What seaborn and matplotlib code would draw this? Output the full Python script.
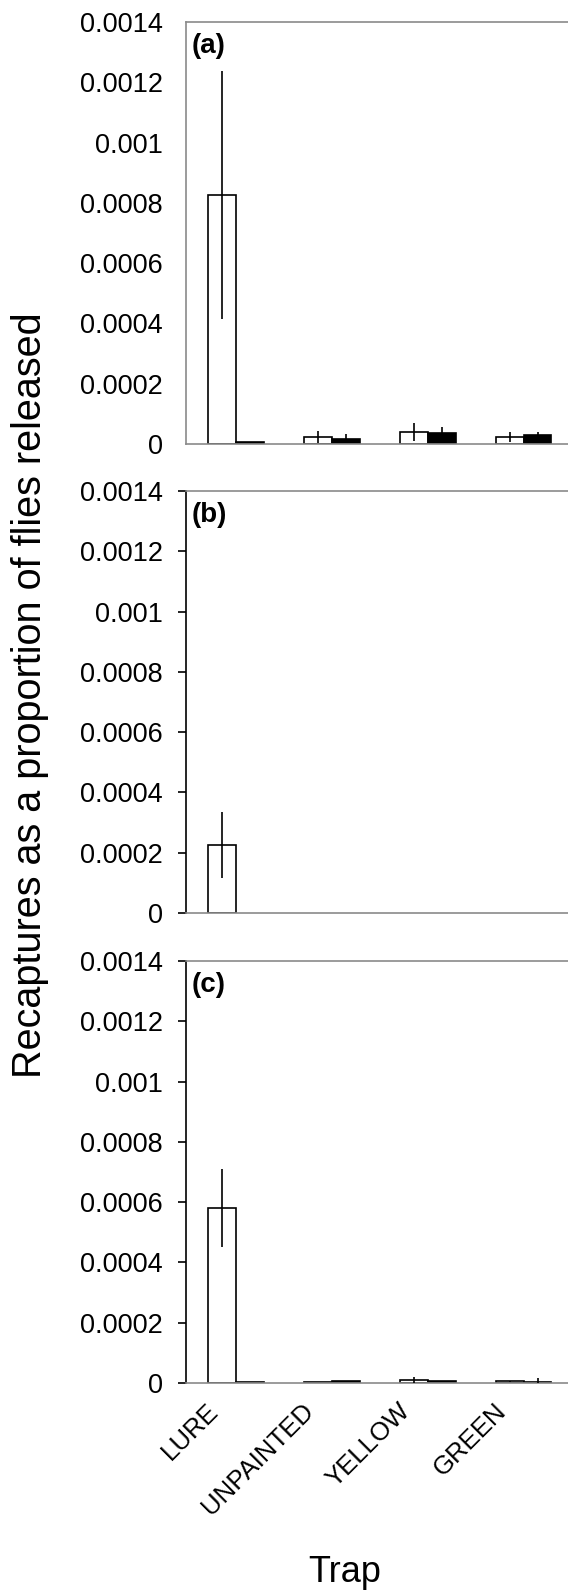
import numpy as np
import pandas as pd
import matplotlib
matplotlib.use('Agg')
import matplotlib.pyplot as plt
import matplotlib.transforms as mtransforms
import seaborn as sns

# categories and series
traps = ['LURE', 'UNPAINTED', 'YELLOW', 'GREEN']
groups = ['Open', 'Filled']
yticks = [0, 0.0002, 0.0004, 0.0006, 0.0008, 0.001, 0.0012, 0.0014]
ytick_labels = ['0', '0.0002', '0.0004', '0.0006', '0.0008', '0.001', '0.0012', '0.0014']

# panel (a)
a_open = [0.000826, 0.000024, 0.000040, 0.000022]
a_open_se = [0.00041, 0.00002, 0.00003, 0.000017]
a_filled = [0.000006, 0.000018, 0.000035, 0.000029]
a_filled_se = [0.0, 0.000015, 0.00002, 0.00001]

# panel (b)
b_open = [0.000225, np.nan, np.nan, np.nan]
b_open_se = [0.00011, 0.0, 0.0, 0.0]
b_filled = [np.nan, np.nan, np.nan, np.nan]
b_filled_se = [0.0, 0.0, 0.0, 0.0]

# panel (c)
c_open = [0.00058, 0.000002, 0.00001, 0.000005]
c_open_se = [0.00013, 0.0, 0.00001, 0.000003]
c_filled = [0.000002, 0.000006, 0.000005, 0.000004]
c_filled_se = [0.0, 0.0, 0.0, 0.000012]

sns.set_style('ticks')
plt.rcParams['font.family'] = ['Liberation Sans', 'DejaVu Sans']
plt.rcParams['text.color'] = 'black'
plt.rcParams['xtick.color'] = 'black'
plt.rcParams['ytick.color'] = 'black'
plt.rcParams['xtick.labelcolor'] = 'black'
plt.rcParams['ytick.labelcolor'] = 'black'

palette = {'Open': 'white', 'Filled': 'black'}
frame_grey = '#8a8a8a'


def draw_panel(ax, open_vals, open_se, filled_vals, filled_se, tag, boxed):
    df = pd.DataFrame({
        'Trap': traps * 2,
        'Group': [groups[0]] * 4 + [groups[1]] * 4,
        'Value': open_vals + filled_vals,
        'SE': open_se + filled_se,
    })
    sns.barplot(data=df, x='Trap', y='Value', hue='Group', order=traps,
                hue_order=groups, palette=palette, width=0.58,
                edgecolor='black', linewidth=1.2, errorbar=None,
                legend=False, ax=ax)

    # error bars: match drawn bars (sorted left to right) with data rows
    df['ti'] = df['Trap'].map({t: i for i, t in enumerate(traps)})
    df['gi'] = df['Group'].map({g: i for i, g in enumerate(groups)})
    rows = df.dropna(subset=['Value']).sort_values(['ti', 'gi'])
    bars = sorted(ax.patches, key=lambda p: p.get_x())
    xs = [p.get_x() + p.get_width() / 2 for p in bars]
    ax.errorbar(xs, rows['Value'].values, yerr=rows['SE'].values, fmt='none',
                ecolor='black', elinewidth=1.2, capsize=0, zorder=5)

    ax.set_xlim(-0.52, 3.9)
    ax.set_ylim(0, 0.0014)
    ax.set_yticks(yticks)
    ax.set_yticklabels(ytick_labels)
    ax.set_xlabel('')
    ax.set_ylabel('')
    ax.tick_params(axis='x', length=0, labelsize=18.5)
    for s in ['top', 'bottom', 'right', 'left']:
        ax.spines[s].set_color(frame_grey)
        ax.spines[s].set_linewidth(1.2)
    if boxed:
        ax.tick_params(axis='y', length=0, pad=16.5, labelsize=19.5)
    else:
        ax.spines['left'].set_color('black')
        ax.spines['right'].set_visible(False)
        ax.tick_params(axis='y', length=5.8, width=1.2, pad=10.8,
                       labelsize=19.5, color='black')
    ax.text(0.013, 0.975, tag, transform=ax.transAxes, fontsize=20,
            fontweight='bold', va='top', ha='left')


fig = plt.figure(figsize=(5.68, 15.93), dpi=100)
left = 186 / 568
width = 424 / 568
height = 422 / 1593
ax_a = fig.add_axes([left, 1 - 444 / 1593, width, height])
ax_b = fig.add_axes([left, 1 - 913 / 1593, width, height])
ax_c = fig.add_axes([left, 1 - 1383 / 1593, width, height])

draw_panel(ax_a, a_open, a_open_se, a_filled, a_filled_se, '(a)', True)
draw_panel(ax_b, b_open, b_open_se, b_filled, b_filled_se, '(b)', False)
draw_panel(ax_c, c_open, c_open_se, c_filled, c_filled_se, '(c)', False)

ax_a.set_xticklabels([])
ax_b.set_xticklabels([])
ax_c.tick_params(axis='x', pad=9)
shift = mtransforms.ScaledTranslation(-0.30, -0.03, fig.dpi_scale_trans)
for lab in ax_c.get_xticklabels():
    lab.set_rotation(45)
    lab.set_ha('right')
    lab.set_rotation_mode('anchor')
    lab.set_transform(lab.get_transform() + shift)

fig.text(0.053, 1 - 695 / 1593, 'Recaptures as a proportion of flies released',
         rotation=90, ha='center', va='center', fontsize=28.5)
fig.text(345 / 568, 1 - 1572 / 1593, 'Trap', ha='center', va='center',
         fontsize=26)

fig.savefig('out.png', dpi=100)
